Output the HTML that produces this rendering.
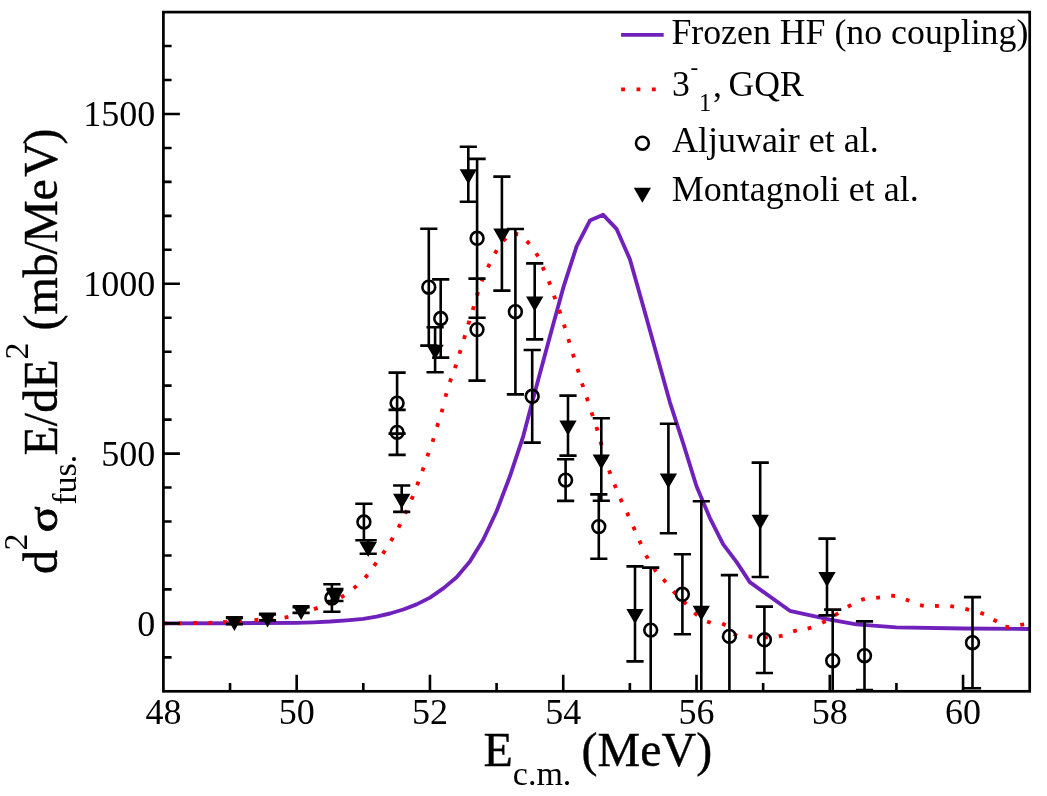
<!DOCTYPE html>
<html><head><meta charset="utf-8"><title>Fusion barrier distribution</title>
<style>html,body{margin:0;padding:0;background:#fff;}body{width:1047px;height:796px;overflow:hidden;}svg{display:block;will-change:transform;}text{font-family:"Liberation Serif", serif;fill:#000;font-kerning:none;}</style></head><body>
<svg width="1047" height="796" viewBox="0 0 1047 796">
<rect x="0" y="0" width="1047" height="796" fill="#fff"/>
<defs><clipPath id="cp"><rect x="163.40" y="12.10" width="866.30" height="679.20"/></clipPath></defs>
<g clip-path="url(#cp)">
<polyline points="163.4,623.4 230.0,623.2 263.4,623.0 296.7,622.8 313.3,622.3 330.0,621.5 346.7,620.3 363.3,618.8 376.6,616.6 390.0,613.5 403.3,609.5 416.6,604.4 430.0,597.6 443.3,588.4 456.6,577.2 469.9,561.6 483.3,539.5 496.6,511.3 509.9,476.3 523.2,436.3 536.6,385.7 549.9,336.4 563.2,287.9 576.6,246.4 589.9,220.6 603.2,214.8 616.5,228.8 629.9,259.3 643.2,306.2 656.5,354.1 669.9,402.3 683.2,443.4 696.5,486.2 709.8,517.8 723.2,544.3 736.5,561.9 749.8,582.1 789.8,610.8 829.8,619.6 856.4,624.4 896.4,627.3 963.1,628.5 1029.7,629.0" fill="none" stroke="#7021bc" stroke-width="3.85" stroke-linejoin="round"/>
<path d="M163.38 621.48L167.23 621.48L167.23 625.32L163.38 625.32ZM178.15 621.50L182.00 621.45L182.05 625.30L178.20 625.35ZM193.44 621.11L197.29 621.04L197.36 624.89L193.51 624.96ZM208.31 620.94L212.16 620.81L212.29 624.66L208.44 624.79ZM222.97 620.18L226.82 619.97L227.03 623.82L223.18 624.03ZM237.95 619.41L241.79 619.15L242.05 622.99L238.21 623.25ZM254.33 618.13L258.17 617.83L258.47 621.67L254.63 621.97ZM269.41 617.05L273.25 616.71L273.59 620.55L269.75 620.89ZM284.27 615.64L288.06 614.97L288.73 618.76L284.94 619.43ZM298.61 612.30L302.30 611.21L303.39 614.90L299.70 615.99ZM313.32 607.37L316.93 606.02L318.28 609.63L314.67 610.98ZM326.95 602.04L330.46 600.45L332.05 603.96L328.54 605.55ZM339.95 595.78L343.22 593.75L345.25 597.02L341.98 599.05ZM352.49 586.87L355.43 584.39L357.91 587.33L354.97 589.81ZM363.68 576.48L366.22 573.58L369.12 576.12L366.58 579.02ZM372.51 564.73L374.77 561.61L377.89 563.87L375.63 566.99ZM381.23 552.63L383.37 549.43L386.57 551.57L384.43 554.77ZM389.26 539.98L391.22 536.66L394.54 538.62L392.58 541.94ZM396.81 526.63L398.57 523.21L401.99 524.97L400.23 528.39ZM403.45 512.95L405.05 509.45L408.55 511.05L406.95 514.55ZM409.69 498.85L411.15 495.29L414.71 496.75L413.25 500.31ZM415.32 484.52L416.68 480.92L420.28 482.28L418.92 485.88ZM420.54 470.47L421.83 466.84L425.46 468.13L424.17 471.76ZM425.55 455.79L426.81 452.15L430.45 453.41L429.19 457.05ZM430.68 441.34L431.86 437.68L435.52 438.86L434.34 442.52ZM435.20 426.28L436.32 422.60L440.00 423.72L438.88 427.40ZM439.73 411.83L440.77 408.13L444.47 409.17L443.43 412.87ZM443.63 396.34L444.66 392.63L448.37 393.66L447.34 397.37ZM448.07 381.42L449.28 377.77L452.93 378.98L451.72 382.63ZM453.06 367.61L454.29 363.96L457.94 365.19L456.71 368.84ZM457.59 353.17L458.73 349.49L462.41 350.63L461.27 354.31ZM462.10 338.39L463.21 334.70L466.90 335.81L465.79 339.50ZM466.40 323.88L467.52 320.20L471.20 321.32L470.08 325.00ZM470.90 309.39L472.01 305.70L475.70 306.81L474.59 310.50ZM475.08 295.04L476.26 291.38L479.92 292.56L478.74 296.22ZM480.00 280.67L481.43 277.10L485.00 278.53L483.57 282.10ZM486.23 266.51L487.89 263.03L491.37 264.69L489.71 268.17ZM493.16 252.45L495.15 249.16L498.44 251.15L496.45 254.44ZM501.88 239.31L504.79 236.78L507.32 239.69L504.41 242.22ZM514.63 231.85L518.45 232.33L517.97 236.15L514.15 235.67ZM528.11 239.78L530.82 242.51L528.09 245.22L525.38 242.49ZM537.80 252.27L539.73 255.60L536.40 257.53L534.47 254.20ZM544.38 266.26L545.94 269.78L542.42 271.34L540.86 267.82ZM550.59 280.51L551.99 284.09L548.41 285.49L547.01 281.91ZM555.76 294.94L557.06 298.56L553.44 299.86L552.14 296.24ZM561.00 309.36L562.24 313.00L558.60 314.24L557.36 310.60ZM565.76 323.89L566.91 327.56L563.24 328.71L562.09 325.04ZM570.18 338.50L571.30 342.18L567.62 343.30L566.50 339.62ZM574.67 353.29L575.81 356.97L572.13 358.11L570.99 354.43ZM579.36 368.29L580.51 371.96L576.84 373.11L575.69 369.44ZM583.84 382.78L585.02 386.44L581.36 387.62L580.18 383.96ZM588.53 396.87L589.73 400.53L586.07 401.73L584.87 398.07ZM593.43 411.87L594.63 415.53L590.97 416.73L589.77 413.07ZM598.28 426.40L599.40 430.08L595.72 431.20L594.60 427.52ZM602.33 440.92L603.38 444.63L599.67 445.68L598.62 441.97ZM606.49 455.40L607.60 459.09L603.91 460.20L602.80 456.51ZM610.88 469.65L612.15 473.28L608.52 474.55L607.25 470.92ZM616.26 483.79L617.71 487.36L614.14 488.81L612.69 485.24ZM622.17 497.86L623.74 501.37L620.23 502.94L618.66 499.43ZM628.74 511.85L630.35 515.34L626.86 516.95L625.25 513.46ZM635.08 525.86L636.64 529.38L633.12 530.94L631.56 527.42ZM641.16 539.85L642.75 543.36L639.24 544.95L637.65 541.44ZM647.79 554.39L649.61 557.79L646.21 559.61L644.39 556.21ZM655.40 567.31L657.69 570.40L654.60 572.69L652.31 569.60ZM664.79 578.08L667.32 580.99L664.41 583.52L661.88 580.61ZM674.70 589.88L677.32 592.70L674.50 595.32L671.88 592.50ZM685.01 600.08L687.72 602.81L684.99 605.52L682.28 602.79ZM695.51 611.29L698.51 613.71L696.09 616.71L693.09 614.29ZM707.76 619.63L711.37 620.96L710.04 624.57L706.43 623.24ZM723.00 621.83L726.47 623.50L724.80 626.97L721.33 625.30ZM734.46 632.35L737.95 633.96L736.34 637.45L732.85 635.84ZM748.63 634.53L752.47 634.83L752.17 638.67L748.33 638.37ZM763.94 635.41L767.79 635.34L767.86 639.19L764.01 639.26ZM778.40 634.54L782.16 633.70L783.00 637.46L779.24 638.30ZM792.63 629.45L796.35 628.43L797.37 632.15L793.65 633.17ZM807.09 626.83L810.77 625.69L811.91 629.37L808.23 630.51ZM821.31 620.96L824.74 619.21L826.49 622.64L823.06 624.39ZM834.05 613.59L837.31 611.55L839.35 614.81L836.09 616.85ZM846.88 605.07L850.23 603.18L852.12 606.53L848.77 608.42ZM860.62 598.08L864.32 597.02L865.38 600.72L861.68 601.78ZM875.96 595.92L879.78 595.46L880.24 599.28L876.42 599.74ZM891.34 593.72L895.18 594.04L894.86 597.88L891.02 597.56ZM906.40 597.66L910.04 598.90L908.80 602.54L905.16 601.30ZM920.39 603.34L924.16 604.09L923.41 607.86L919.64 607.11ZM935.03 603.92L938.88 604.03L938.77 607.88L934.92 607.77ZM950.51 604.27L954.33 604.71L953.89 608.53L950.07 608.09ZM965.76 607.09L969.51 607.96L968.64 611.71L964.89 610.84ZM981.13 610.90L984.70 612.33L983.27 615.90L979.70 614.47ZM994.42 617.99L997.81 619.82L995.98 623.21L992.59 621.38ZM1005.58 624.71L1009.39 625.28L1008.82 629.09L1005.01 628.52ZM1020.01 622.99L1023.81 622.41L1024.39 626.21L1020.59 626.79Z" fill="#ff0000"/>
<path d="M331.9 584.3V611.7M323.3 584.3H340.5M323.3 611.7H340.5M363.9 503.8V540.2M355.3 503.8H372.5M355.3 540.2H372.5M397.1 372.6V433.6M388.5 372.6H405.7M388.5 433.6H405.7M397.1 409.9V454.9M388.5 409.9H405.7M388.5 454.9H405.7M428.8 228.8V345.6M420.2 228.8H437.4M420.2 345.6H437.4M440.7 279.4V357.6M432.1 279.4H449.3M432.1 357.6H449.3M477.1 158.9V317.7M468.5 158.9H485.7M468.5 317.7H485.7M477.0 278.6V380.6M468.4 278.6H485.6M468.4 380.6H485.6M515.4 229.0V394.4M506.8 229.0H524.0M506.8 394.4H524.0M532.2 350.0V442.6M523.6 350.0H540.8M523.6 442.6H540.8M565.6 459.3V500.9M557.0 459.3H574.2M557.0 500.9H574.2M598.8 494.4V558.8M590.2 494.4H607.4M590.2 558.8H607.4M650.7 567.6V692.6M642.1 567.6H659.3M642.1 692.6H659.3M682.4 554.3V634.3M673.8 554.3H691.0M673.8 634.3H691.0M729.4 575.1V697.7M720.8 575.1H738.0M720.8 697.7H738.0M764.4 606.6V673.0M755.8 606.6H773.0M755.8 673.0H773.0M832.7 609.6V711.8M824.1 609.6H841.3M824.1 711.8H841.3M864.5 621.4V690.0M855.9 621.4H873.1M855.9 690.0H873.1M972.5 597.1V688.3M963.9 597.1H981.1M963.9 688.3H981.1" fill="none" stroke="#000" stroke-width="2.60"/>
<circle cx="331.9" cy="598.0" r="6.40" fill="none" stroke="#000" stroke-width="2.60"/>
<circle cx="363.9" cy="522.0" r="6.40" fill="none" stroke="#000" stroke-width="2.60"/>
<circle cx="397.1" cy="403.1" r="6.40" fill="none" stroke="#000" stroke-width="2.60"/>
<circle cx="397.1" cy="432.4" r="6.40" fill="none" stroke="#000" stroke-width="2.60"/>
<circle cx="428.8" cy="287.2" r="6.40" fill="none" stroke="#000" stroke-width="2.60"/>
<circle cx="440.7" cy="318.5" r="6.40" fill="none" stroke="#000" stroke-width="2.60"/>
<circle cx="477.1" cy="238.3" r="6.40" fill="none" stroke="#000" stroke-width="2.60"/>
<circle cx="477.0" cy="329.6" r="6.40" fill="none" stroke="#000" stroke-width="2.60"/>
<circle cx="515.4" cy="311.7" r="6.40" fill="none" stroke="#000" stroke-width="2.60"/>
<circle cx="532.2" cy="396.3" r="6.40" fill="none" stroke="#000" stroke-width="2.60"/>
<circle cx="565.6" cy="480.1" r="6.40" fill="none" stroke="#000" stroke-width="2.60"/>
<circle cx="598.8" cy="526.6" r="6.40" fill="none" stroke="#000" stroke-width="2.60"/>
<circle cx="650.7" cy="630.1" r="6.40" fill="none" stroke="#000" stroke-width="2.60"/>
<circle cx="682.4" cy="594.3" r="6.40" fill="none" stroke="#000" stroke-width="2.60"/>
<circle cx="729.4" cy="636.4" r="6.40" fill="none" stroke="#000" stroke-width="2.60"/>
<circle cx="764.4" cy="639.8" r="6.40" fill="none" stroke="#000" stroke-width="2.60"/>
<circle cx="832.7" cy="660.7" r="6.40" fill="none" stroke="#000" stroke-width="2.60"/>
<circle cx="864.5" cy="655.7" r="6.40" fill="none" stroke="#000" stroke-width="2.60"/>
<circle cx="972.5" cy="642.7" r="6.40" fill="none" stroke="#000" stroke-width="2.60"/>
<path d="M234.4 617.9V624.1M225.8 617.9H243.0M225.8 624.1H243.0M267.5 614.4V620.4M258.9 614.4H276.1M258.9 620.4H276.1M301.1 607.1V612.9M292.5 607.1H309.7M292.5 612.9H309.7M334.9 589.0V601.0M326.3 589.0H343.5M326.3 601.0H343.5M368.2 540.3V553.7M359.6 540.3H376.8M359.6 553.7H376.8M401.7 485.5V511.9M393.1 485.5H410.3M393.1 511.9H410.3M435.1 327.2V372.2M426.5 327.2H443.7M426.5 372.2H443.7M468.3 146.7V201.7M459.7 146.7H476.9M459.7 201.7H476.9M501.9 176.6V290.6M493.3 176.6H510.5M493.3 290.6H510.5M534.7 263.4V339.4M526.1 263.4H543.3M526.1 339.4H543.3M568.0 395.6V455.6M559.4 395.6H576.6M559.4 455.6H576.6M601.3 418.2V500.8M592.7 418.2H609.9M592.7 500.8H609.9M635.0 566.4V661.4M626.4 566.4H643.6M626.4 661.4H643.6M668.4 423.8V533.2M659.8 423.8H677.0M659.8 533.2H677.0M701.3 501.3V720.1M692.7 501.3H709.9M692.7 720.1H709.9M760.2 462.6V577.0M751.6 462.6H768.8M751.6 577.0H768.8M827.0 538.6V615.4M818.4 538.6H835.6M818.4 615.4H835.6" fill="none" stroke="#000" stroke-width="2.60"/>
<path d="M225.75 616.01L243.05 616.01L234.40 630.99ZM258.85 612.41L276.15 612.41L267.50 627.39ZM292.45 605.01L309.75 605.01L301.10 619.99ZM326.25 590.01L343.55 590.01L334.90 604.99ZM359.55 542.01L376.85 542.01L368.20 556.99ZM393.05 493.71L410.35 493.71L401.70 508.69ZM426.45 344.71L443.75 344.71L435.10 359.69ZM459.65 169.21L476.95 169.21L468.30 184.19ZM493.25 228.61L510.55 228.61L501.90 243.59ZM526.05 296.41L543.35 296.41L534.70 311.39ZM559.35 420.61L576.65 420.61L568.00 435.59ZM592.65 454.51L609.95 454.51L601.30 469.49ZM626.35 608.91L643.65 608.91L635.00 623.89ZM659.75 473.51L677.05 473.51L668.40 488.49ZM692.65 605.71L709.95 605.71L701.30 620.69ZM751.55 514.81L768.85 514.81L760.20 529.79ZM818.35 572.01L835.65 572.01L827.00 586.99Z" fill="#000"/>
</g>
<rect x="163.40" y="12.10" width="866.30" height="679.20" fill="none" stroke="#000" stroke-width="2.70"/>
<path d="M163.40 657.34h8.2M163.40 623.38h16.5M163.40 589.42h8.2M163.40 555.46h8.2M163.40 521.50h8.2M163.40 487.54h8.2M163.40 453.58h16.5M163.40 419.62h8.2M163.40 385.66h8.2M163.40 351.70h8.2M163.40 317.74h8.2M163.40 283.78h16.5M163.40 249.82h8.2M163.40 215.86h8.2M163.40 181.90h8.2M163.40 147.94h8.2M163.40 113.98h16.5M163.40 80.02h8.2M163.40 46.06h8.2M230.04 691.30v-8.2M296.68 691.30v-16.5M363.32 691.30v-8.2M429.95 691.30v-16.5M496.59 691.30v-8.2M563.23 691.30v-16.5M629.87 691.30v-8.2M696.51 691.30v-16.5M763.15 691.30v-8.2M829.78 691.30v-16.5M896.42 691.30v-8.2M963.06 691.30v-16.5" fill="none" stroke="#000" stroke-width="2.60"/>
<text x="155.3" y="635.6" font-size="36.0" text-anchor="end">0</text>
<text x="155.3" y="465.8" font-size="36.0" text-anchor="end">500</text>
<text x="155.3" y="296.0" font-size="36.0" text-anchor="end">1000</text>
<text x="155.3" y="126.2" font-size="36.0" text-anchor="end">1500</text>
<text x="163.4" y="724.2" font-size="36.0" text-anchor="middle">48</text>
<text x="296.7" y="724.2" font-size="36.0" text-anchor="middle">50</text>
<text x="430.0" y="724.2" font-size="36.0" text-anchor="middle">52</text>
<text x="563.2" y="724.2" font-size="36.0" text-anchor="middle">54</text>
<text x="696.5" y="724.2" font-size="36.0" text-anchor="middle">56</text>
<text x="829.8" y="724.2" font-size="36.0" text-anchor="middle">58</text>
<text x="963.1" y="724.2" font-size="36.0" text-anchor="middle">60</text>
<g stroke="#000" stroke-width="0.4">
<text x="483.5" y="766" font-size="48.0">E</text>
<text x="512.8" y="784.8" font-size="34.0" stroke="none">c.m.</text>
<text x="581.5" y="766" font-size="48.0">(MeV)</text>
</g>
<g transform="translate(56.7,574.1) rotate(-90)" stroke="#000" stroke-width="0.4">
<text x="0" y="0" font-size="48.0">d</text>
<text x="23.6" y="-29.3" font-size="34.0" stroke="none">2</text>
<text x="41.8" y="0" font-size="48.0" stroke="#000" stroke-width="0.9" transform="scale(1,0.9)">σ</text>
<text x="69.4" y="19.3" font-size="34.0" stroke="none">fus.</text>
<text x="118.6" y="0" font-size="48.0">E/dE</text>
<text x="214.5" y="-29" font-size="34.0" stroke="none">2</text>
<text x="243.5" y="0" font-size="48.0">(mb</text>
<text x="319.6" y="0" font-size="48.0">/</text>
<text x="331.0" y="0" font-size="48.0">Me</text>
<text x="397.3" y="0" font-size="48.0">V</text>
<text x="429.6" y="0" font-size="48.0">)</text>
</g>
<path d="M621.1 34.9H663.7" stroke="#7021bc" stroke-width="3.85" fill="none"/>
<text x="671.4" y="43.9" font-size="35.8">Frozen HF (no coupling)</text>
<path d="M621.1 89.4H663.7" stroke="#ff0000" stroke-width="3.85" stroke-dasharray="3.85 11.55" fill="none"/>
<text x="671.9" y="96.4" font-size="35.7">3</text>
<text x="690.6" y="74.9" font-size="23">-</text>
<text x="699.0" y="110.5" font-size="24.5">1</text>
<text x="713.1" y="96.8" font-size="35.7">,</text>
<text x="728.6" y="96.4" font-size="35.7" textLength="75.2" lengthAdjust="spacingAndGlyphs">GQR</text>
<circle cx="642.4" cy="143.2" r="6.40" fill="none" stroke="#000" stroke-width="2.60"/>
<text x="671.9" y="152.4" font-size="36">Aljuwair et al.</text>
<path d="M633.75 187.81L651.05 187.81L642.40 202.79Z" fill="#000"/>
<text x="671.7" y="200.5" font-size="36">Montagnoli et al.</text>
</svg></body></html>
